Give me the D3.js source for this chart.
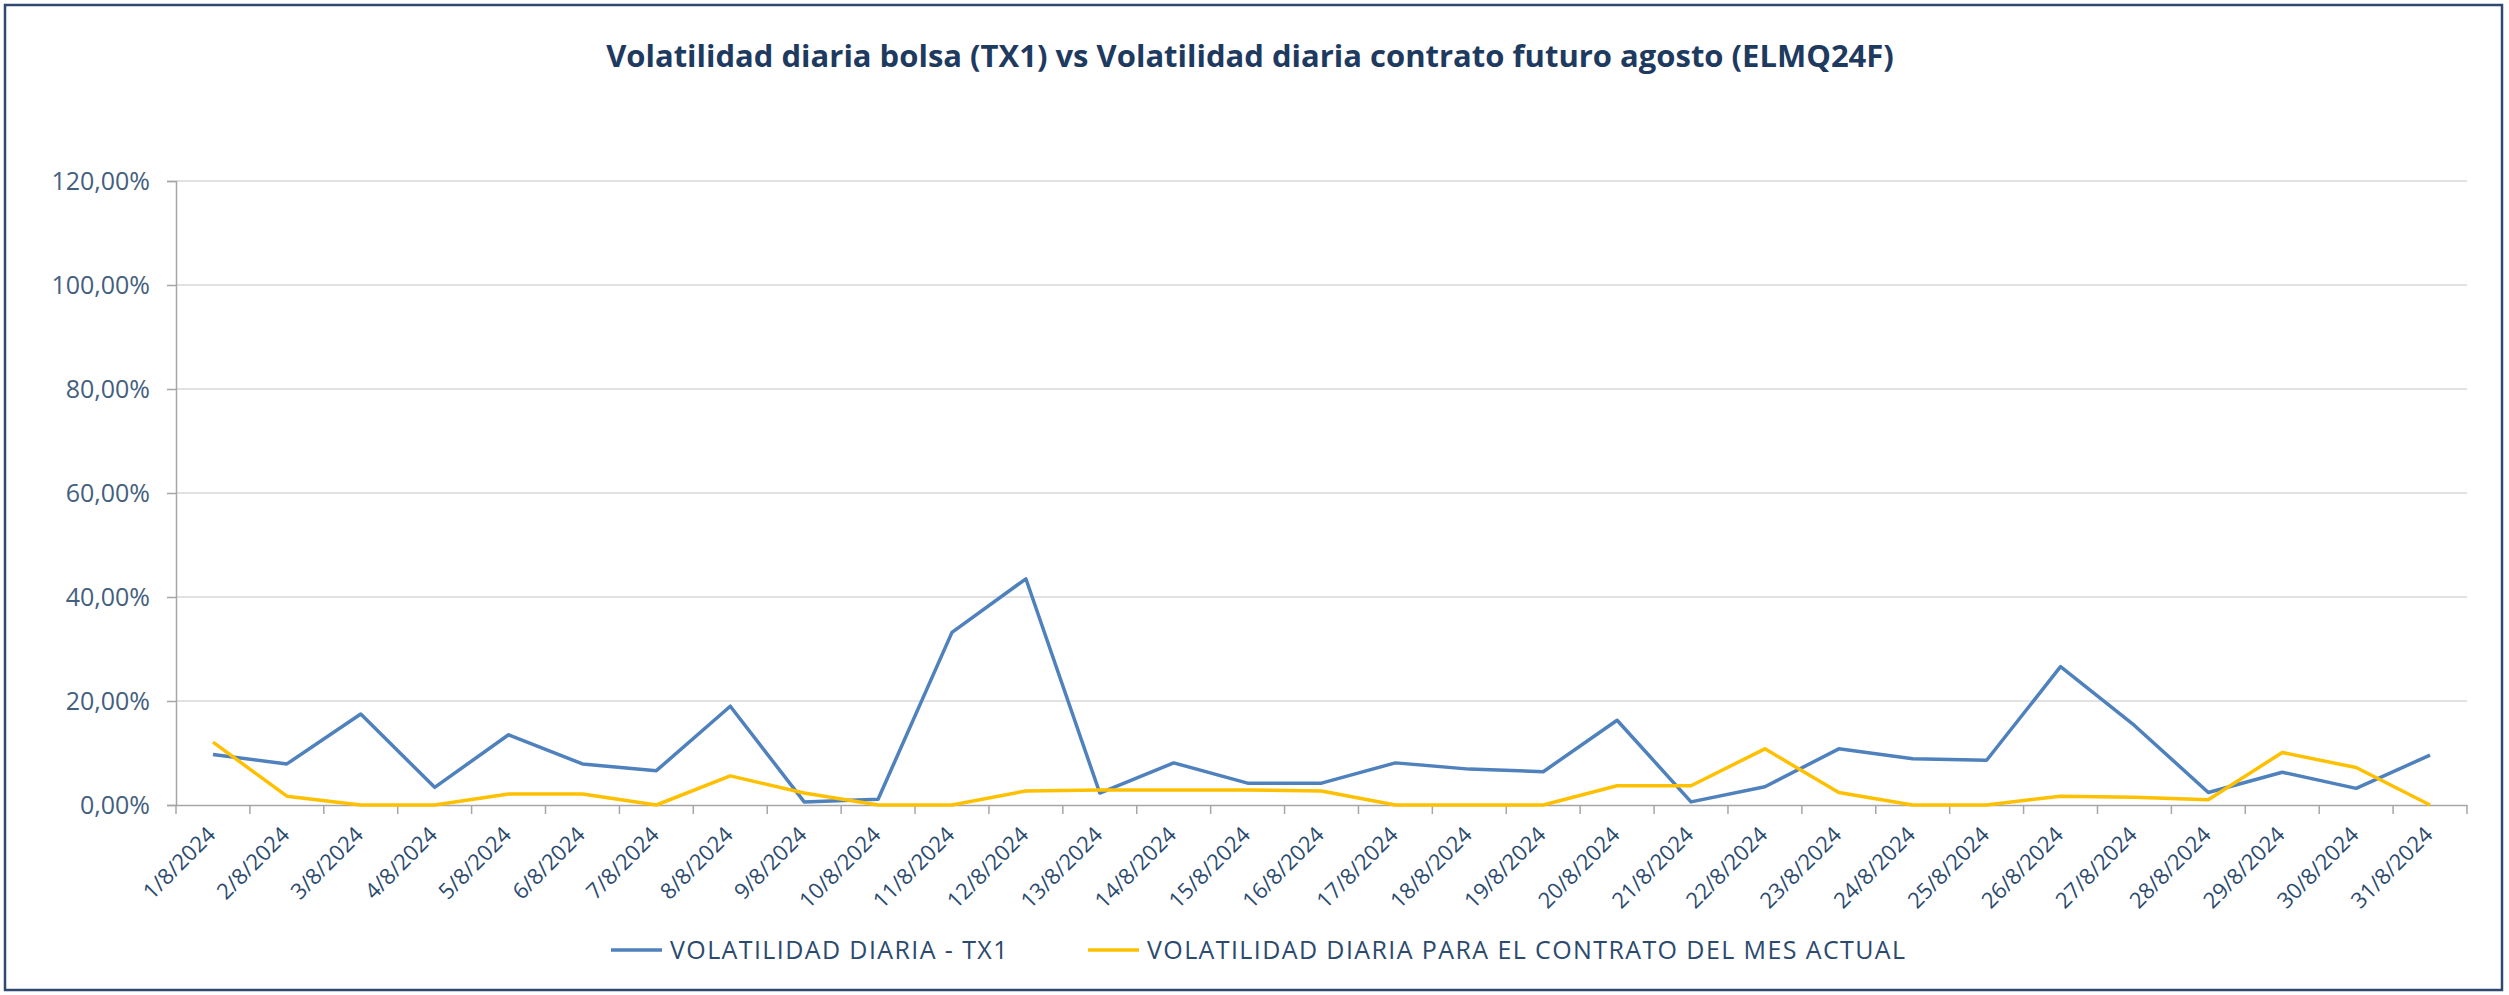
<!DOCTYPE html>
<html><head><meta charset="utf-8">
<script src="https://cdn.jsdelivr.net/npm/d3@7"></script>
<style>html,body{margin:0;padding:0;background:#fff;}svg{display:block;}</style>
</head><body>
<svg id="chart" width="2509" height="995"></svg>
<script>
const categories = ["1/8/2024","2/8/2024","3/8/2024","4/8/2024","5/8/2024","6/8/2024","7/8/2024","8/8/2024","9/8/2024","10/8/2024","11/8/2024","12/8/2024","13/8/2024","14/8/2024","15/8/2024","16/8/2024","17/8/2024","18/8/2024","19/8/2024","20/8/2024","21/8/2024","22/8/2024","23/8/2024","24/8/2024","25/8/2024","26/8/2024","27/8/2024","28/8/2024","29/8/2024","30/8/2024","31/8/2024"];
const tx1 = [9.7,7.9,17.5,3.4,13.5,7.9,6.6,19.0,0.6,1.1,33.2,43.5,2.3,8.1,4.2,4.2,8.1,6.9,6.4,16.3,0.6,3.5,10.8,8.9,8.6,26.6,15.3,2.4,6.3,3.2,9.6];
const contrato = [12.1,1.7,0,0,2.1,2.1,0,5.6,2.3,0,0,2.7,2.9,2.9,2.9,2.7,0,0,0,3.7,3.7,10.8,2.4,0,0,1.7,1.5,1.0,10.1,7.2,0];
const yTicks = [0,20,40,60,80,100,120];
const seriesNames = ["VOLATILIDAD DIARIA - TX1","VOLATILIDAD DIARIA PARA EL CONTRATO DEL MES ACTUAL"];
const title = "Volatilidad diaria bolsa (TX1) vs Volatilidad diaria contrato futuro agosto (ELMQ24F)";

const svg = d3.select("#chart");
const W = 2509, H = 995;
const FONT = "'Open Sans', 'Noto Sans', sans-serif";
const m = {left:176, right:W-2467, top:181, bottom:H-805};

svg.append("rect").attr("x",5).attr("y",5).attr("width",2497).attr("height",985)
  .attr("fill","#fff").attr("stroke","#2E4A70").attr("stroke-width",2.5);

svg.append("text").attr("x",1250).attr("y",67).attr("text-anchor","middle")
  .attr("font-family",FONT).attr("font-weight","bold").attr("font-size",31)
  .attr("fill","#1F3A5F").text(title);

const x = d3.scaleBand().domain(categories).range([m.left, W-m.right]).padding(0);
const y = d3.scaleLinear().domain([0,120]).range([H-m.bottom, m.top]);

// gridlines
svg.append("g").selectAll("line").data(yTicks.filter(d=>d>0)).join("line")
  .attr("x1",m.left).attr("x2",W-m.right).attr("y1",d=>y(d)).attr("y2",d=>y(d))
  .attr("stroke","#D9D9D9").attr("stroke-width",1.5);

// y axis
const yAxis = svg.append("g").attr("transform",`translate(${m.left},0)`)
  .call(d3.axisLeft(y).tickValues(yTicks).tickSize(9).tickPadding(17)
    .tickFormat(d=>d3.format(".2f")(d).replace(".",",")+"%"));
yAxis.select(".domain").attr("stroke","#A6A6A6").attr("stroke-width",1.5);
yAxis.selectAll(".tick line").attr("stroke","#A6A6A6").attr("stroke-width",1.5);
yAxis.selectAll("text").attr("font-family",FONT).attr("font-size",25).attr("fill","#44607F");

// x axis
const xAxis = svg.append("g").attr("transform",`translate(0,${y(0)})`)
  .call(d3.axisBottom(x).tickSize(0).tickSizeOuter(0).tickPadding(0));
xAxis.select(".domain").attr("stroke","#A6A6A6").attr("stroke-width",1.5);
xAxis.selectAll(".tick text").attr("font-family",FONT).attr("font-size",22).attr("fill","#2B4A6E")
  .attr("text-anchor","end").attr("dy",0).attr("dx",0)
  .attr("transform","translate(4,31) rotate(-45)");
// boundary ticks
const bounds = categories.map(c=>x(c)).concat([x(categories[categories.length-1])+x.bandwidth()]);
svg.append("g").selectAll("line").data(bounds).join("line")
  .attr("x1",d=>d).attr("x2",d=>d).attr("y1",y(0)).attr("y2",y(0)+9)
  .attr("stroke","#A6A6A6").attr("stroke-width",1.5);

const line = d3.line().x((d,i)=>x(categories[i])+x.bandwidth()/2).y(d=>y(d));
svg.append("path").datum(tx1).attr("d",line).attr("fill","none")
  .attr("stroke","#4F81BD").attr("stroke-width",3.5).attr("stroke-linejoin","round");
svg.append("path").datum(contrato).attr("d",line).attr("fill","none")
  .attr("stroke","#FFC000").attr("stroke-width",3.5).attr("stroke-linejoin","round");

// legend
const legend = [{name:seriesNames[0],color:"#4F81BD",x:611},{name:seriesNames[1],color:"#FFC000",x:1088}];
const lg = svg.append("g");
legend.forEach(l=>{
  lg.append("line").attr("x1",l.x).attr("x2",l.x+51).attr("y1",950).attr("y2",950)
    .attr("stroke",l.color).attr("stroke-width",3.5);
  lg.append("text").attr("x",l.x+59).attr("y",950).attr("dy","0.35em")
    .attr("font-family",FONT).attr("font-size",25).attr("letter-spacing",1.4)
    .attr("fill","#2B4A6E").text(l.name);
});
</script>
</body></html>
